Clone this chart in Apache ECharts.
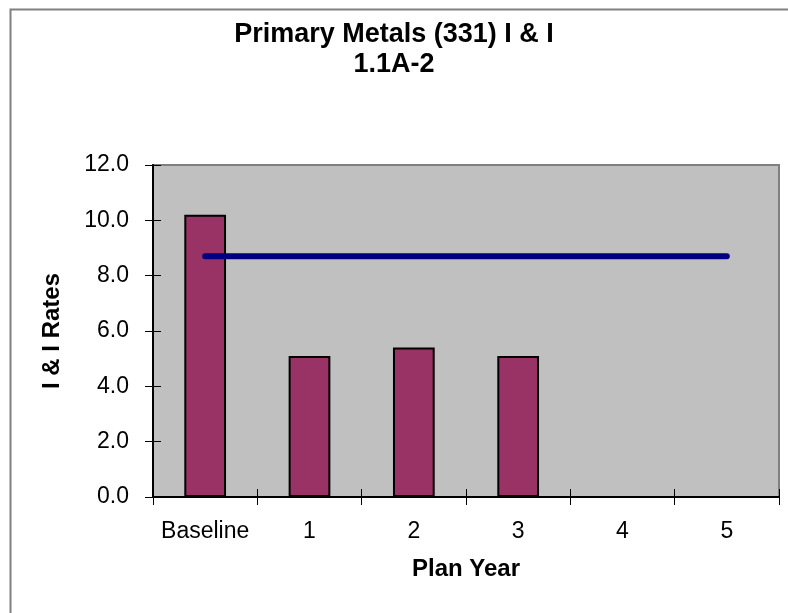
<!DOCTYPE html>
<html>
<head>
<meta charset="utf-8">
<script src="https://cdn.jsdelivr.net/npm/echarts@6/dist/echarts.min.js"></script>
<style>
html,body{margin:0;padding:0;background:#fff;}
#chart{width:788px;height:613px;}
</style>
</head>
<body>
<div id="chart"></div>
<script>
var categories = ['Baseline', '1', '2', '3', '4', '5'];
var rateValues = [10.2, 5.1, 5.4, 5.1, null, null];
var targetValues = [8.7, 8.7, 8.7, 8.7, 8.7, 8.7];
var yTicks = { min: 0, max: 12, interval: 2 };

var FONT = '"Liberation Sans", Arial, sans-serif';
var chart = echarts.init(document.getElementById('chart'), null, { renderer: 'canvas' });

var baseX = {
  type: 'category', data: categories, gridIndex: 0, position: 'bottom',
  boundaryGap: true
};
var baseY = {
  type: 'value', gridIndex: 0, position: 'left',
  min: yTicks.min, max: yTicks.max, interval: yTicks.interval
};

chart.setOption({
  animation: false,
  backgroundColor: '#ffffff',
  graphic: [{
    type: 'rect', left: 8, top: 7, z: 100, silent: true,
    shape: { width: 820, height: 700 },
    style: { fill: 'none', stroke: '#808080', lineWidth: 2 }
  }],
  title: {
    text: 'Primary Metals (331) I & I\n1.1A-2',
    left: 'center', top: 15,
    textStyle: { fontFamily: FONT, fontSize: 27, fontWeight: 'bold', color: '#000', lineHeight: 30 }
  },
  grid: {
    left: 153, top: 165, right: 9, bottom: 116,
    show: true, backgroundColor: '#C0C0C0', borderColor: '#808080', borderWidth: 2
  },
  xAxis: [
    Object.assign({}, baseX, {
      name: 'Plan Year', nameLocation: 'middle', nameGap: 60,
      nameTextStyle: { fontFamily: FONT, fontSize: 24, fontWeight: 'bold', color: '#000' },
      axisLine: { show: true, lineStyle: { color: '#000', width: 2 } },
      axisTick: { show: true, inside: false, interval: 0, length: 8, lineStyle: { color: '#000', width: 1 } },
      axisLabel: { fontFamily: FONT, fontSize: 23, color: '#000', margin: 23, interval: 0 },
      splitLine: { show: false }
    }),
    Object.assign({}, baseX, {
      axisLine: { show: false },
      axisTick: { show: true, inside: true, interval: 0, length: 8, lineStyle: { color: '#000', width: 1 } },
      axisLabel: { show: false, interval: 0 },
      splitLine: { show: false }
    })
  ],
  yAxis: [
    Object.assign({}, baseY, {
      name: 'I & I Rates', nameLocation: 'middle', nameGap: 89,
      nameTextStyle: { fontFamily: FONT, fontSize: 24, fontWeight: 'bold', color: '#000' },
      axisLine: { show: true, lineStyle: { color: '#000', width: 2 } },
      axisTick: { show: true, inside: false, length: 8, lineStyle: { color: '#000', width: 1 } },
      axisLabel: { fontFamily: FONT, fontSize: 23, color: '#000', margin: 24,
        formatter: function (v) { return v.toFixed(1); } },
      splitLine: { show: false }
    }),
    Object.assign({}, baseY, {
      axisLine: { show: false },
      axisTick: { show: true, inside: true, length: 8, lineStyle: { color: '#000', width: 1 } },
      axisLabel: { show: false },
      splitLine: { show: false }
    })
  ],
  series: [
    {
      type: 'bar', xAxisIndex: 0, yAxisIndex: 0, data: rateValues,
      barWidth: '40%',
      itemStyle: { color: '#993366', borderColor: '#000', borderWidth: 2 },
      z: 2
    },
    {
      type: 'line', xAxisIndex: 0, yAxisIndex: 0, data: targetValues,
      symbol: 'none',
      lineStyle: { color: '#000080', width: 6, cap: 'round' },
      z: 3
    }
  ]
});
</script>
</body>
</html>
